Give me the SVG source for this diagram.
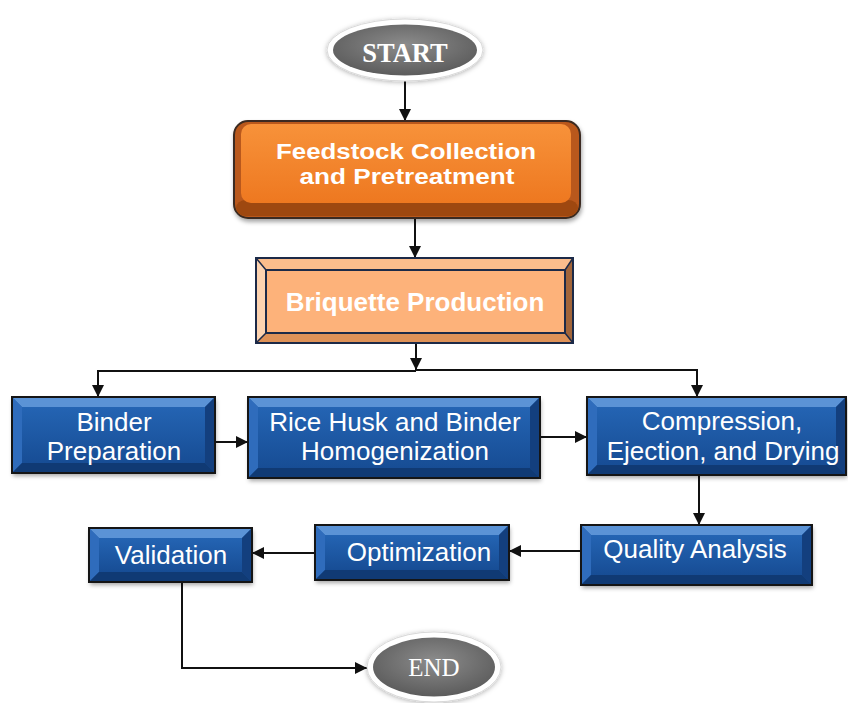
<svg xmlns="http://www.w3.org/2000/svg" width="848" height="703" viewBox="0 0 848 703">
<defs>
  <marker id="arr" viewBox="0 0 10 10" refX="10" refY="5" markerUnits="userSpaceOnUse" markerWidth="12" markerHeight="12" orient="auto">
    <path d="M0,0 L10,5 L0,10 z" fill="#111"/>
  </marker>
  <radialGradient id="gray" cx="50%" cy="40%" r="60%">
    <stop offset="0" stop-color="#8c8c8c"/>
    <stop offset="1" stop-color="#5c5c5c"/>
  </radialGradient>
  <linearGradient id="blueFace" x1="0" y1="0" x2="0" y2="1">
    <stop offset="0" stop-color="#2464b3"/>
    <stop offset="1" stop-color="#174d95"/>
  </linearGradient>
  <linearGradient id="orangeFace" x1="0" y1="0" x2="0" y2="1">
    <stop offset="0" stop-color="#f7923a"/>
    <stop offset="1" stop-color="#ee7820"/>
  </linearGradient>
  <filter id="shadow" x="-10%" y="-10%" width="125%" height="135%">
    <feDropShadow dx="1" dy="3" stdDeviation="2" flood-color="#000" flood-opacity="0.35"/>
  </filter>
  <filter id="glow" x="-20%" y="-30%" width="140%" height="160%">
    <feDropShadow dx="0" dy="1" stdDeviation="2.5" flood-color="#000" flood-opacity="0.3"/>
  </filter>
</defs>
<style>
  .conn { fill: none; stroke: #111; stroke-width: 2; }
  .face { fill: url(#blueFace); }
  .btop { fill: #5b93d6; }
  .bleft { fill: #2f6cbc; }
  .bright { fill: #133f7e; }
  .bbot { fill: #103a74; }
  .bout { fill: none; stroke: #151515; stroke-width: 2; }
  .bt { font-family: "Liberation Sans", Arial, sans-serif; font-size: 26px; fill: #fff; text-anchor: middle; }
  .ot { font-family: "Liberation Sans", Arial, sans-serif; font-weight: bold; fill: #fff; text-anchor: middle; }
  .st { font-family: "Liberation Serif", "Times New Roman", serif; fill: #fff; text-anchor: middle; }
  .ring { fill: #fff; stroke: #d8d8d8; stroke-width: 1; }
</style>

<g id="connectors">
  <path class="conn" d="M405,78 L405,121" marker-end="url(#arr)"/>
  <path class="conn" d="M415,218 L415,258" marker-end="url(#arr)"/>
  <path class="conn" d="M416,343 L416,370" marker-end="url(#arr)"/>
  <path class="conn" d="M416,371 L98,371 L98,397" marker-end="url(#arr)"/>
  <path class="conn" d="M416,370 L697,370 L697,397" marker-end="url(#arr)"/>
  <path class="conn" d="M215,442 L248,442" marker-end="url(#arr)"/>
  <path class="conn" d="M540,437 L587,437" marker-end="url(#arr)"/>
  <path class="conn" d="M699,475 L699,525" marker-end="url(#arr)"/>
  <path class="conn" d="M581,551 L509,551" marker-end="url(#arr)"/>
  <path class="conn" d="M315,553 L252,553" marker-end="url(#arr)"/>
  <path class="conn" d="M182,582 L182,668 L367,668" marker-end="url(#arr)"/>
</g>

<g id="start">
  <ellipse class="ring" cx="405" cy="50" rx="78" ry="31" filter="url(#glow)"/>
  <ellipse cx="405" cy="50" rx="72" ry="25.5" fill="url(#gray)"/>
  <text class="st" x="405" y="62" font-size="26.5" font-weight="bold">START</text>
</g>

<g id="feedstock">
  <rect x="234" y="121" width="346" height="97" rx="14" fill="#b9581a" stroke="#3b2b20" stroke-width="2" filter="url(#shadow)"/>
  <rect x="236" y="200" width="342" height="16" rx="10" fill="#9e4810"/>
  <rect x="241" y="124" width="330" height="79" rx="10" fill="url(#orangeFace)"/>
  <text class="ot" font-size="22" x="406" y="159" textLength="260" lengthAdjust="spacingAndGlyphs">Feedstock Collection</text>
  <text class="ot" font-size="22" x="407" y="184" textLength="215" lengthAdjust="spacingAndGlyphs">and Pretreatment</text>
</g>

<g id="briquette">
  <rect x="256" y="258" width="317" height="85" fill="#fdb57e"/>
  <polygon points="256,258 573,258 565,270 266,270" fill="#fbbd8c"/>
  <polygon points="256,258 266,270 266,333 256,343" fill="#fdd3b0"/>
  <polygon points="573,258 573,343 565,333 565,270" fill="#a2653a"/>
  <polygon points="256,343 266,333 565,333 573,343" fill="#df9258"/>
  <path d="M256,258 L266,270 M573,258 L565,270 M256,343 L266,333 M573,343 L565,333" stroke="#1c2a48" stroke-width="1.5"/>
  <rect x="266" y="270" width="299" height="63" fill="#fdb27a" stroke="#1c2a48" stroke-width="2"/>
  <rect x="256" y="258" width="317" height="85" fill="none" stroke="#1c2a48" stroke-width="2"/>
  <text class="ot" font-size="26" x="415" y="311">Briquette Production</text>
</g>

<g id="binder">
  <rect x="12" y="397" width="203" height="76" class="face" filter="url(#shadow)"/>
  <polygon class="btop" points="12,397 215,397 205,407 22,407"/>
  <polygon class="bleft" points="12,397 22,407 22,463 12,473"/>
  <polygon class="bright" points="215,397 215,473 205,463 205,407"/>
  <polygon class="bbot" points="12,473 22,463 205,463 215,473"/>
  <rect x="22" y="407" width="183" height="56" class="face"/>
  <rect x="12" y="397" width="203" height="76" class="bout"/>
  <text class="bt" x="114" y="431">Binder</text>
  <text class="bt" x="114" y="460">Preparation</text>
</g>

<g id="ricehusk">
  <rect x="248" y="397" width="292" height="81" class="face" filter="url(#shadow)"/>
  <polygon class="btop" points="248,397 540,397 530,407 258,407"/>
  <polygon class="bleft" points="248,397 258,407 258,468 248,478"/>
  <polygon class="bright" points="540,397 540,478 530,468 530,407"/>
  <polygon class="bbot" points="248,478 258,468 530,468 540,478"/>
  <rect x="258" y="407" width="272" height="61" class="face"/>
  <rect x="248" y="397" width="292" height="81" class="bout"/>
  <text class="bt" x="395" y="431">Rice Husk and Binder</text>
  <text class="bt" x="395" y="460">Homogenization</text>
</g>

<g id="compression">
  <rect x="587" y="397" width="259" height="78" class="face" filter="url(#shadow)"/>
  <polygon class="btop" points="587,397 846,397 836,407 597,407"/>
  <polygon class="bleft" points="587,397 597,407 597,465 587,475"/>
  <polygon class="bright" points="846,397 846,475 836,465 836,407"/>
  <polygon class="bbot" points="587,475 597,465 836,465 846,475"/>
  <rect x="597" y="407" width="239" height="58" class="face"/>
  <rect x="587" y="397" width="259" height="78" class="bout"/>
  <text class="bt" x="722" y="430">Compression,</text>
  <text class="bt" x="723" y="460">Ejection, and Drying</text>
</g>

<g id="quality">
  <rect x="581" y="525" width="231" height="60" class="face" filter="url(#shadow)"/>
  <polygon class="btop" points="581,525 812,525 802,535 591,535"/>
  <polygon class="bleft" points="581,525 591,535 591,575 581,585"/>
  <polygon class="bright" points="812,525 812,585 802,575 802,535"/>
  <polygon class="bbot" points="581,585 591,575 802,575 812,585"/>
  <rect x="591" y="535" width="211" height="40" class="face"/>
  <rect x="581" y="525" width="231" height="60" class="bout"/>
  <text class="bt" x="695" y="558">Quality Analysis</text>
</g>

<g id="optimization">
  <rect x="315" y="525" width="194" height="55" class="face" filter="url(#shadow)"/>
  <polygon class="btop" points="315,525 509,525 499,535 325,535"/>
  <polygon class="bleft" points="315,525 325,535 325,570 315,580"/>
  <polygon class="bright" points="509,525 509,580 499,570 499,535"/>
  <polygon class="bbot" points="315,580 325,570 499,570 509,580"/>
  <rect x="325" y="535" width="174" height="35" class="face"/>
  <rect x="315" y="525" width="194" height="55" class="bout"/>
  <text class="bt" x="419" y="561">Optimization</text>
</g>

<g id="validation">
  <rect x="89" y="528" width="163" height="54" class="face" filter="url(#shadow)"/>
  <polygon class="btop" points="89,528 252,528 242,538 99,538"/>
  <polygon class="bleft" points="89,528 99,538 99,572 89,582"/>
  <polygon class="bright" points="252,528 252,582 242,572 242,538"/>
  <polygon class="bbot" points="89,582 99,572 242,572 252,582"/>
  <rect x="99" y="538" width="143" height="34" class="face"/>
  <rect x="89" y="528" width="163" height="54" class="bout"/>
  <text class="bt" x="171" y="564">Validation</text>
</g>

<g id="end">
  <ellipse class="ring" cx="434" cy="667" rx="67" ry="35" filter="url(#glow)"/>
  <ellipse cx="434" cy="667" rx="61" ry="29.5" fill="url(#gray)"/>
  <text class="st" x="434" y="676" font-size="25">END</text>
</g>
</svg>
